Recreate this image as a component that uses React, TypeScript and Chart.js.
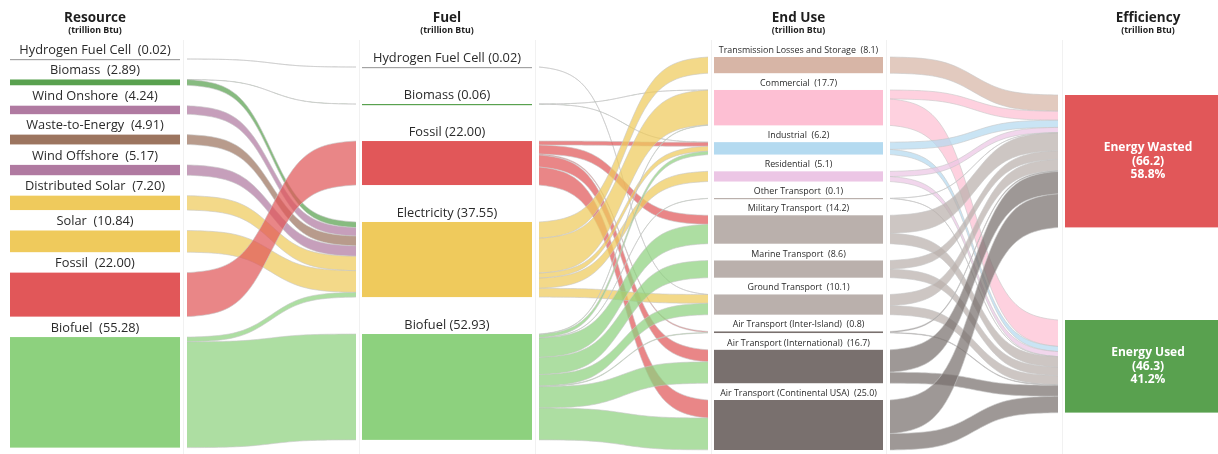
import React, { useEffect, useRef } from 'react';
import { Chart, registerables } from 'chart.js';

Chart.register(...registerables);

// ---------------- DATA ----------------
const resourceNames = ['Hydrogen Fuel Cell', 'Biomass', 'Wind Onshore', 'Waste-to-Energy', 'Wind Offshore', 'Distributed Solar', 'Solar', 'Fossil', 'Biofuel'];
const resourceValues = [0.02, 2.89, 4.24, 4.91, 5.17, 7.2, 10.84, 22.0, 55.28];

const fuelNames = ['Hydrogen Fuel Cell', 'Biomass', 'Fossil', 'Electricity', 'Biofuel'];
const fuelValues = [0.02, 0.06, 22.0, 37.55, 52.93];

const endUseNames = ['Transmission Losses and Storage', 'Commercial', 'Industrial', 'Residential', 'Other Transport', 'Military Transport', 'Marine Transport', 'Ground Transport', 'Air Transport (Inter-Island)', 'Air Transport (International)', 'Air Transport (Continental USA)'];
const endUseValues = [8.1, 17.7, 6.2, 5.1, 0.1, 14.2, 8.6, 10.1, 0.8, 16.7, 25.0];

const efficiencyNames = ['Energy Wasted', 'Energy Used'];
const efficiencyValues = [66.2, 46.3];

// flows: [source index, target index, value]
const resourceToFuel = [
  [0, 0, 0.02], [1, 1, 0.06], [1, 3, 2.83], [2, 3, 4.24], [3, 3, 4.91], [4, 3, 5.17],
  [5, 3, 7.2], [6, 3, 10.84], [7, 2, 22.0], [8, 3, 2.35], [8, 4, 52.93],
];
const fuelToEndUse = [
  [0, 7, 0.02],
  [1, 1, 0.03], [1, 2, 0.03],
  [2, 2, 2.0], [2, 5, 4.5], [2, 8, 0.5], [2, 9, 6.0], [2, 10, 9.0],
  [3, 0, 8.1], [3, 1, 17.45], [3, 2, 2.5], [3, 3, 5.1], [3, 7, 4.4],
  [4, 1, 0.2], [4, 2, 1.7], [4, 4, 0.1], [4, 5, 9.7], [4, 6, 8.6], [4, 7, 5.7], [4, 8, 0.3], [4, 9, 10.7], [4, 10, 15.93],
];
const endUseToEfficiency = [
  [0, 0, 8.1],
  [1, 0, 4.5], [1, 1, 13.2],
  [2, 0, 3.6], [2, 1, 2.6],
  [3, 0, 2.6], [3, 1, 2.5],
  [4, 0, 0.05], [4, 1, 0.05],
  [5, 0, 9.0], [5, 1, 5.2],
  [6, 0, 4.3], [6, 1, 4.3],
  [7, 0, 5.6], [7, 1, 4.5],
  [8, 0, 0.5], [8, 1, 0.3],
  [9, 0, 11.2], [9, 1, 5.5],
  [10, 0, 16.8], [10, 1, 8.2],
];

// ---------------- STYLE / LAYOUT ----------------
const resourceColors = ['#a3a3a3', '#59a14f', '#b07aa1', '#9c755f', '#b07aa1', '#efca5c', '#efca5c', '#e15759', '#8dd17e'];
const fuelColors = ['#a3a3a3', '#59a14f', '#e15759', '#efca5c', '#8dd17e'];
const endUseColors = ['#d7b5a6', '#fdbfd3', '#b4daf0', '#ecc6e5', '#bab0ac', '#bab0ac', '#bab0ac', '#bab0ac', '#79706e', '#79706e', '#79706e'];
const efficiencyColors = ['#e15759', '#59a14f'];

const FONT = '"Open Sans", "Noto Sans", sans-serif';

const columns = [
  { title: 'Resource', names: resourceNames, values: resourceValues, colors: resourceColors, x0: 10, x1: 180, top: 29.5, gap: 10.22, decimals: 2, sep: '  ', labelSize: 12.8, labelOffset: 9 },
  { title: 'Fuel', names: fuelNames, values: fuelValues, colors: fuelColors, x0: 362, x1: 532, top: 33.5, gap: 18.47, decimals: 2, sep: ' ', labelSize: 12.8, labelOffset: 9 },
  { title: 'End Use', names: endUseNames, values: endUseValues, colors: endUseColors, x0: 714, x1: 883, top: 28.5, gap: 8.39, decimals: 1, sep: '  ', labelSize: 8.9, labelOffset: 6.5 },
  { title: 'Efficiency', names: efficiencyNames, values: efficiencyValues, colors: efficiencyColors, x0: 1065, x1: 1231, top: 47.5, gap: 46.3, decimals: 1, sep: ' ', labelSize: 12, labelOffset: 0 },
];
const bands = [resourceToFuel, fuelToEndUse, endUseToEfficiency];

function hexToRgba(hex: string, a: number) {
  const h = hex.replace('#', '');
  const r = parseInt(h.slice(0, 2), 16);
  const g = parseInt(h.slice(2, 4), 16);
  const b = parseInt(h.slice(4, 6), 16);
  return `rgba(${r},${g},${b},${a})`;
}

function sig(t: number) {
  const k = 10;
  const s = (u: number) => 1 / (1 + Math.exp(-k * (u - 0.5)));
  return (s(t) - s(0)) / (s(1) - s(0));
}

const sankeyPlugin = {
  id: 'sankeyDraw',
  afterDraw(chart: any) {
    const ctx = chart.ctx as CanvasRenderingContext2D;
    const xs = chart.scales.x;
    const ys = chart.scales.y;
    const px = (v: number) => xs.getPixelForValue(v);
    const py = (v: number) => ys.getPixelForValue(v);

    // node layout in value units
    const layout = columns.map((c) => {
      let cur = c.top;
      return c.values.map((v) => {
        const n = { y0: cur, y1: cur + v };
        cur += v + c.gap;
        return n;
      });
    });

    ctx.save();
    // faint pane separators
    ctx.strokeStyle = '#f1f1f1';
    ctx.lineWidth = 1;
    columns.forEach((c, i) => {
      [c.x0 - 3, c.x1 + 3].forEach((x, j) => {
        if (i === 0 && j === 0) return;
        ctx.beginPath();
        ctx.moveTo(Math.round(px(x)) + 0.5, 40);
        ctx.lineTo(Math.round(px(x)) + 0.5, chart.height);
        ctx.stroke();
      });
    });

    // flows
    bands.forEach((flows, b) => {
      const src = columns[b];
      const tgt = columns[b + 1];
      const outOff = src.values.map(() => 0);
      const inOff = tgt.values.map(() => 0);
      const byTarget = flows.map((f, i) => ({ f, i })).sort((a, c) => a.f[0] - c.f[0] || a.f[1] - c.f[1]);
      const bySource = flows.map((f, i) => ({ f, i })).sort((a, c) => a.f[1] - c.f[1] || a.f[0] - c.f[0]);
      const srcPos: number[] = [];
      const tgtPos: number[] = [];
      byTarget.forEach(({ f, i }) => {
        srcPos[i] = layout[b][f[0]].y0 + outOff[f[0]];
        outOff[f[0]] += f[2];
      });
      bySource.forEach(({ f, i }) => {
        tgtPos[i] = layout[b + 1][f[1]].y0 + inOff[f[1]];
        inOff[f[1]] += f[2];
      });
      const x0 = px(src.x1 + 7);
      const x1 = px(tgt.x0 - (b === 2 ? 7 : 6));
      const N = 48;
      flows.forEach((f, i) => {
        const ya0 = py(srcPos[i]);
        const ya1 = py(srcPos[i] + f[2]);
        const yb0 = py(tgtPos[i]);
        const yb1 = py(tgtPos[i] + f[2]);
        const top: [number, number][] = [];
        const bot: [number, number][] = [];
        for (let k = 0; k <= N; k++) {
          const t = k / N;
          const x = x0 + (x1 - x0) * t;
          const s = sig(t);
          top.push([x, ya0 + (yb0 - ya0) * s]);
          bot.push([x, ya1 + (yb1 - ya1) * s]);
        }
        ctx.beginPath();
        ctx.moveTo(top[0][0], top[0][1]);
        top.forEach((p) => ctx.lineTo(p[0], p[1]));
        for (let k = bot.length - 1; k >= 0; k--) ctx.lineTo(bot[k][0], bot[k][1]);
        ctx.closePath();
        ctx.fillStyle = hexToRgba(src.colors[f[0]], 0.72);
        ctx.fill();
        ctx.strokeStyle = 'rgba(200,200,200,0.85)';
        ctx.lineWidth = 0.7;
        ctx.beginPath();
        top.forEach((p, k) => (k === 0 ? ctx.moveTo(p[0], p[1]) : ctx.lineTo(p[0], p[1])));
        ctx.stroke();
        ctx.beginPath();
        bot.forEach((p, k) => (k === 0 ? ctx.moveTo(p[0], p[1]) : ctx.lineTo(p[0], p[1])));
        ctx.stroke();
      });
    });

    // nodes
    columns.forEach((c, ci) => {
      c.values.forEach((v, ni) => {
        const n = layout[ci][ni];
        const yTop = py(n.y0);
        const h = py(n.y1) - yTop;
        ctx.fillStyle = c.colors[ni];
        if (h < 1.2) {
          ctx.fillRect(px(c.x0), Math.round(yTop), px(c.x1) - px(c.x0), 1.2);
        } else {
          ctx.fillRect(px(c.x0), yTop, px(c.x1) - px(c.x0), h);
        }
      });
    });

    // node labels
    ctx.textAlign = 'center';
    ctx.textBaseline = 'middle';
    columns.forEach((c, ci) => {
      const cx = (px(c.x0) + px(c.x1)) / 2;
      // titles
      ctx.fillStyle = '#1e1e1e';
      ctx.font = `bold 13.5px ${FONT}`;
      ctx.fillText(c.title, cx, 18);
      ctx.font = `bold 8.8px ${FONT}`;
      ctx.fillText('(trillion Btu)', cx, 30.5);

      if (ci < 3) {
        ctx.font = `${c.labelSize}px ${FONT}`;
        ctx.fillStyle = '#2a2a2a';
        c.names.forEach((name, ni) => {
          const n = layout[ci][ni];
          ctx.fillText(`${name}${c.sep}(${c.values[ni].toFixed(c.decimals)})`, cx, py(n.y0) - c.labelOffset);
        });
      } else {
        const total = c.values.reduce((a, b) => a + b, 0);
        ctx.font = `bold ${c.labelSize}px ${FONT}`;
        ctx.fillStyle = '#ffffff';
        const lcx = 1148;
        c.names.forEach((name, ni) => {
          const n = layout[ci][ni];
          const cy = (py(n.y0) + py(n.y1)) / 2;
          const pct = ((c.values[ni] / total) * 100).toFixed(1) + '%';
          ctx.fillText(name, lcx, cy - 13.5);
          ctx.fillText(`(${c.values[ni].toFixed(c.decimals)})`, lcx, cy);
          ctx.fillText(pct, lcx, cy + 13.5);
        });
      }
    });
    ctx.restore();
  },
};

export default function App() {
  const ref = useRef<HTMLCanvasElement | null>(null);
  useEffect(() => {
    document.body.style.margin = '0';
    document.body.style.background = '#ffffff';
    if (!ref.current) return;
    const chart = new Chart(ref.current, {
      type: 'scatter',
      data: { datasets: [{ data: [] }] },
      options: {
        animation: false,
        responsive: false,
        devicePixelRatio: 1,
        layout: { padding: 0 },
        plugins: { legend: { display: false }, tooltip: { enabled: false }, title: { display: false } },
        scales: {
          x: { type: 'linear', min: 0, max: 1218, display: false },
          y: { type: 'linear', min: 0, max: 227, reverse: true, display: false },
        },
      },
      plugins: [sankeyPlugin],
    } as any);
    return () => chart.destroy();
  }, []);
  return (
    <div style={{ width: 1218, height: 454, background: '#fff' }}>
      <canvas ref={ref} width={1218} height={454} style={{ display: 'block' }} />
    </div>
  );
}
